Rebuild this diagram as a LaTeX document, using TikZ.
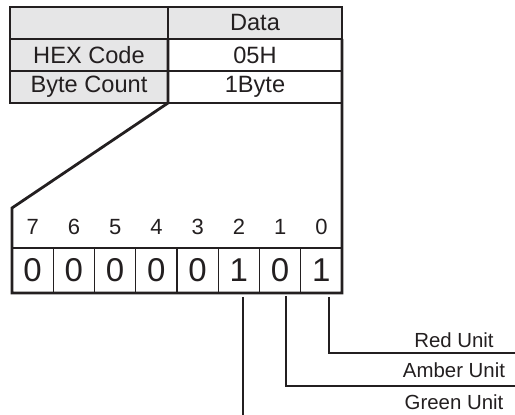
\documentclass[tikz,border=0pt]{standalone}
\usepackage{fontspec}
\setmainfont{Liberation Sans}
\usetikzlibrary{positioning}

\definecolor{ink}{HTML}{231F20}
\definecolor{shade}{HTML}{E6E6E7}

\tikzset{
  tab/.style={draw=ink, line width=0.7pt, inner sep=0pt, outer sep=0pt,
    minimum height=16pt, text=ink, font=\fontsize{11.8}{13}\selectfont},
  hdr/.style={tab, fill=shade},
  val/.style={tab, fill=white},
  bitcell/.style={draw=ink, line width=0.6pt, inner sep=0pt, outer sep=0pt,
    minimum width=20.625pt, minimum height=22.5pt, text=ink,
    font=\fontsize{16.5}{18}\selectfont},
  bitnum/.style={text=ink, inner sep=0pt, font=\fontsize{11}{12}\selectfont},
  callout/.style={draw=ink, line width=1.4pt, line join=miter},
  lead/.style={draw=ink, line width=0.7pt},
  unit/.style={text=ink, inner sep=0pt, font=\fontsize{10.2}{11}\selectfont}
}

\begin{document}
\begin{tikzpicture}[x=0.5pt,y=-0.5pt]
   \useasboundingbox (0,0) rectangle (515,415);

   % table
   \node[hdr, minimum width=79pt] (corner) at (89,23) {};
   \node[hdr, minimum width=87pt] (data) [right=0pt of corner] {Data};
   \node[hdr, minimum width=79pt] (hex) [below=0pt of corner] {HEX Code};
   \node[val, minimum width=87pt] (hexv) [right=0pt of hex] {05H};
   \node[hdr, minimum width=79pt] (cnt) [below=0pt of hex] {Byte Count};
   \node[val, minimum width=87pt] (cntv) [right=0pt of cnt] {1Byte};

   % byte cells
   \foreach \v [count=\i] in {0,0,0,0,0,1,0,1} {
      \pgfmathtruncatemacro{\b}{8-\i}
      \node[bitcell] (c\b) at ({12+(\i-0.5)*41.25},270.5) {\v};
      \node[bitnum] (n\b) at ({12+(\i-0.5)*41.25},227) {\b};
   }
   \coordinate (bytetop) at (12,208);

   \draw[callout] (hexv.north west) -- (cntv.south west) -- (bytetop)
      -- (c7.south west) -- (c0.south east) -- (hexv.north east);

   % units
   \node[unit] (red)   at (454,340) {Red Unit};
   \node[unit] (amber) at (454,370) {Amber Unit};
   \node[unit] (green) at (454,402) {Green Unit};

   \coordinate (s0) at (329,297);
   \coordinate (s1) at (286,296);
   \coordinate (s2) at (243,297);
   \coordinate (e0) at (515,353);
   \coordinate (e1) at (515,386);
   \coordinate (e2) at (243,415);

   \path[lead] (s0) |- (e0);
   \path[lead] (s1) |- (e1);
   \path[lead] (s2) -- (e2);
\end{tikzpicture}
\end{document}
